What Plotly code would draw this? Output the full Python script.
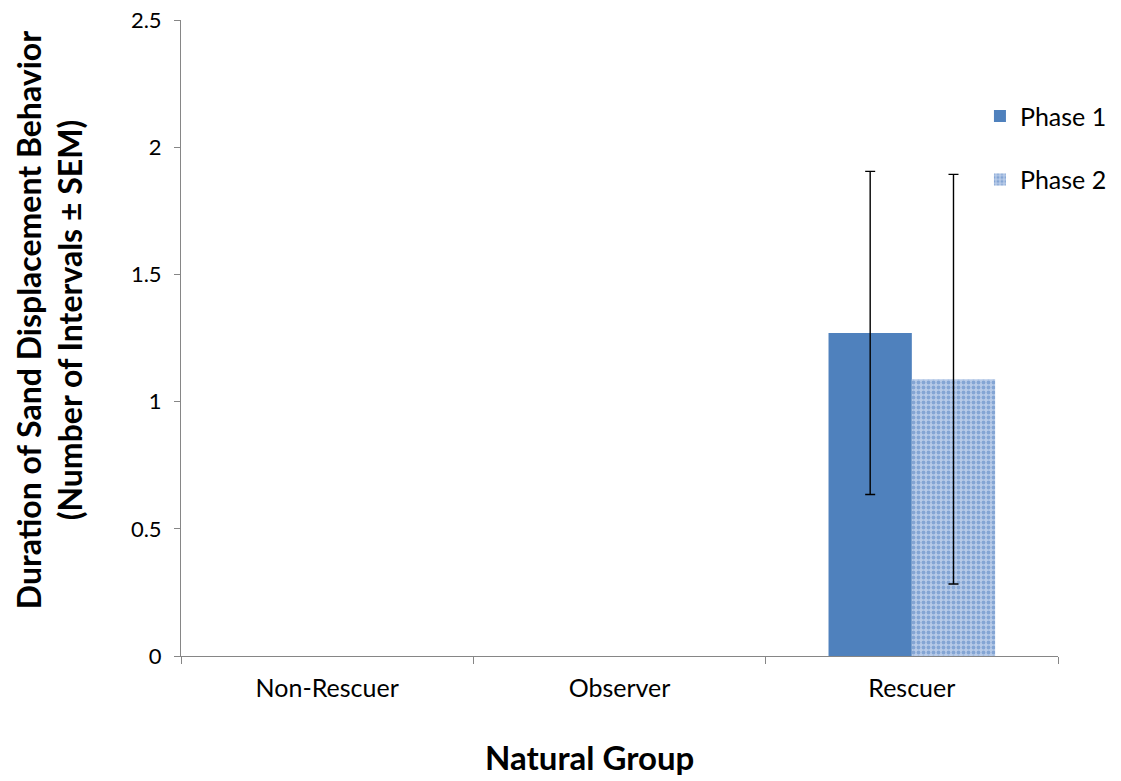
import plotly.graph_objects as go

categories = ["Non-Rescuer", "Observer", "Rescuer"]
phase1 = [0, 0, 1.27]
phase1_err = [0, 0, 0.635]
phase2 = [0, 0, 1.088]
phase2_err = [0, 0, 0.805]
y_ticks = [0, 0.5, 1, 1.5, 2, 2.5]
y_tick_labels = ["0", "0.5", "1", "1.5", "2", "2.5"]

FONT = "Lato, 'Open Sans', sans-serif"


def shown(vals):
    # zero-height bars are not drawn in the reference (no marks, no error caps)
    return [v if v else None for v in vals]


fig = go.Figure()
fig.add_trace(go.Bar(
    x=categories, y=shown(phase1), name="Phase 1", legendgroup="p1",
    marker=dict(color="#4f81bd", line=dict(width=0)),
    error_y=dict(type="data", array=phase1_err, visible=True, color="black", thickness=1.4, width=5),
))
fig.add_trace(go.Bar(
    x=categories, y=shown(phase2), name="Phase 2", legendgroup="p2",
    marker=dict(color="#aec4e4", line=dict(width=0),
                pattern=dict(shape=".", fgcolor="#4f7fc0", bgcolor="#b8cbe8", size=5, solidity=0.45)),
    error_y=dict(type="data", array=phase2_err, visible=True, color="black", thickness=1.4, width=5),
))

fig.update_layout(
    width=1121, height=781,
    margin=dict(l=173, r=71, t=12, b=133, autoexpand=False),
    plot_bgcolor="white", paper_bgcolor="white",
    barmode="group", bargap=0.43, bargroupgap=0,
    font=dict(family=FONT, size=22, color="black"),
    legend=dict(x=0.911, y=0.885, xanchor="left", yanchor="top", tracegroupgap=28,
                font=dict(size=25), bgcolor="rgba(0,0,0,0)"),
    showlegend=True,
    annotations=[
        dict(text="<b>Duration of Sand Displacement Behavior<br>(Number of Intervals ± SEM)</b>",
             xref="paper", yref="paper", x=-0.1505, y=0.528, xanchor="center", yanchor="middle",
             textangle=-90, showarrow=False, font=dict(size=32)),
        dict(text="<b>Natural Group</b>", xref="paper", yref="paper", x=0.466, y=-0.159,
             xanchor="center", yanchor="middle", showarrow=False, font=dict(size=33)),
    ],
)
fig.update_xaxes(
    showline=True, linecolor="#868686", linewidth=1,
    ticks="outside", tickson="boundaries", ticklen=7, tickcolor="#868686",
    tickfont=dict(size=25), ticklabelstandoff=10, automargin=False,
    showgrid=False,
)
fig.update_yaxes(
    range=[0, 2.5], tickvals=y_ticks, ticktext=y_tick_labels,
    showline=True, linecolor="#868686", linewidth=1,
    ticks="outside", ticklen=6, tickcolor="#868686",
    tickfont=dict(size=22), ticklabelstandoff=8, automargin=False,
    ticklabeloverflow="allow",
    showgrid=False, zeroline=False,
)
fig.write_html("out.html")
